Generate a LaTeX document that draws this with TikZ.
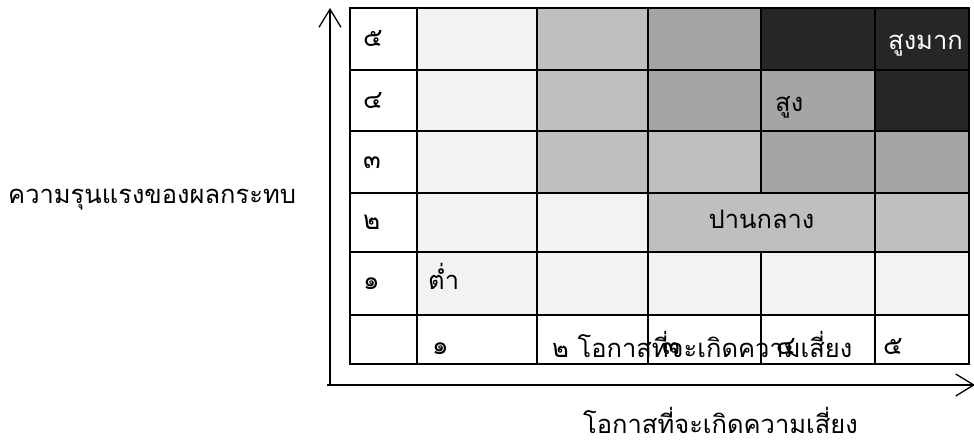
\documentclass[tikz,border=0pt]{standalone}
\usepackage{fontspec}
\newfontfamily\thaifont[Script=Thai]{Loma}
\usetikzlibrary{arrows.meta}
\definecolor{cLow}{HTML}{F2F2F2}
\definecolor{cMid}{HTML}{BFBFBF}
\definecolor{cHigh}{HTML}{A5A5A5}
\definecolor{cTop}{HTML}{262626}
\tikzset{
	lbl/.style={font=\thaifont\fontsize{25.5}{30}\selectfont, inner sep=0pt, anchor=base west},
	num/.style={lbl, font=\thaifont\fontsize{26}{30}\selectfont},
	axis/.style={line width=1.3pt, -{Straight Barb[length=18pt,width=22pt,line width=1.3pt]}},
	grid/.style={line width=1.6pt},
}
\begin{document}
\begin{tikzpicture}[x=1pt,y=-1pt]
		\useasboundingbox (0,0) rectangle (974,446);
		% cells
		\fill[cLow]  (417,  8) rectangle (537,315);
		\fill[cLow]  (537,193) rectangle (648,315);
		\fill[cLow]  (648,252) rectangle (969,315);
		\fill[cMid]  (537,  8) rectangle (648,193);
		\fill[cMid]  (648,131) rectangle (761,193);
		\fill[cMid]  (648,193) rectangle (969,252);
		\fill[cHigh] (648,  8) rectangle (761,131);
		\fill[cHigh] (761, 70) rectangle (875,193);
		\fill[cHigh] (875,131) rectangle (969,193);
		\fill[cTop]  (761,  8) rectangle (969, 70);
		\fill[cTop]  (875, 70) rectangle (969,131);
		% grid
		\draw[grid] (350,8) rectangle (969,364);
		\draw[grid] (350, 70) -- (969, 70);
		\draw[grid] (350,131) -- (969,131);
		\draw[grid] (350,193) -- (969,193);
		\draw[grid] (350,252) -- (969,252);
		\draw[grid] (350,315) -- (969,315);
		\draw[grid] (417,8) -- (417,364);
		\draw[grid] (537,8) -- (537,364);
		\draw[grid] (648,8) -- (648,364);
		\draw[grid] (761,8) -- (761,193);
		\draw[grid] (761,252) -- (761,364);
		\draw[grid] (875,8) -- (875,364);
		% axes
		\coordinate (O) at (330,385);
		\coordinate (yTop) at (330,8);
		\coordinate (xEnd) at (975,385);
		\draw[axis] (O) -- (yTop);
		\draw[axis] (327,385) -- (xEnd);
		% row labels
		\node[num] (r5) at (363, 47) {๕};
		\node[num] (r4) at (363,109) {๔};
		\node[num] (r3) at (363,169) {๓};
		\node[num] (r2) at (363,230) {๒};
		\node[num] (r1) at (363,290) {๑};
		% column labels
		\node[num] (c1) at (432,354) {๑};
		\node[lbl] (c2) at (552,357) {๒ โอกาสที่จะเกิดความเสี่ยง};
		\node[num] (c3) at (662,354) {๓};
		\node[num] (c4) at (776,354) {๔};
		\node[num] (c5) at (883,354) {๕};
		% levels
		\node[lbl] (low) at (428,290) {ต่ำ};
		\node[lbl, anchor=base] (mid) at (761.5,229) {ปานกลาง};
		\node[lbl] (high) at (775,112) {สูง};
		\node[lbl, text=white] (top) at (888,50) {สูงมาก};
		% axis titles
		\node[lbl] (yTitle) at (8,204) {ความรุนแรงของผลกระทบ};
		\node[lbl] (xTitle) at (583,433) {โอกาสที่จะเกิดความเสี่ยง};
	\end{tikzpicture}
\end{document}
